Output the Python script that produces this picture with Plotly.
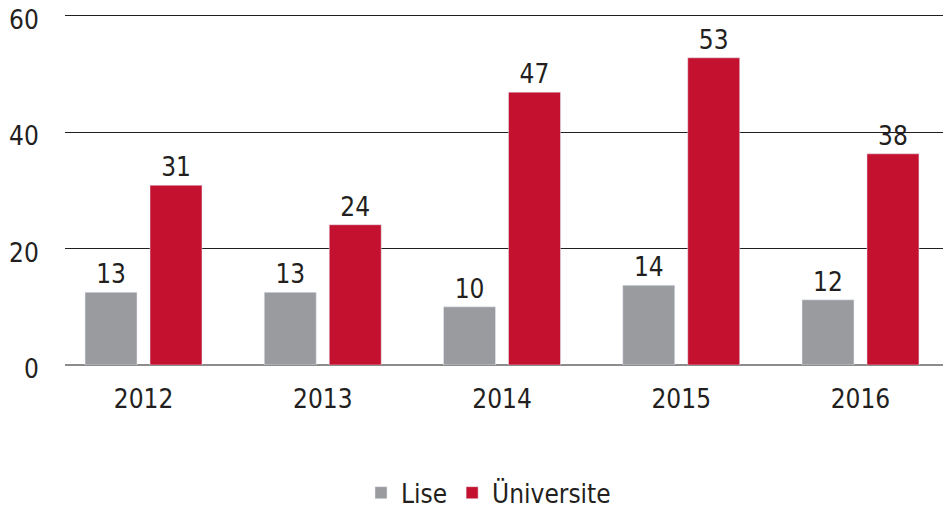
import plotly.graph_objects as go

years = ["2012", "2013", "2014", "2015", "2016"]
lise_values = [12.5, 12.5, 10.0, 13.7, 11.2]
lise_labels = ["13", "13", "10", "14", "12"]
uni_values = [30.9, 24.1, 46.9, 52.8, 36.3]
uni_labels = ["31", "24", "47", "53", "38"]
y_ticks = [0, 20, 40, 60]

FONT = "DejaVu Sans Condensed, Liberation Sans Narrow, sans-serif"
FS = 26
TXT = "#231f20"
GRAY = "#9a9b9f"
RED = "#c41130"

fig = go.Figure()
fig.add_trace(go.Bar(
    x=years, y=lise_values, name="Lise", marker_color=GRAY,
    text=lise_labels, textposition="outside", cliponaxis=False,
    textfont=dict(family=FONT, size=FS, color=TXT),
))
fig.add_trace(go.Bar(
    x=years, y=uni_values, name="Üniversite", marker_color=RED,
    text=uni_labels, textposition="outside", cliponaxis=False,
    textfont=dict(family=FONT, size=FS, color=TXT),
))

# y tick labels as annotations so they can sit slightly below their gridlines
for v in y_ticks:
    fig.add_annotation(
        xref="paper", yref="y", x=0, y=v, text=str(v),
        xanchor="right", yanchor="middle", xshift=-24, yshift=-4,
        showarrow=False, font=dict(family=FONT, size=FS, color=TXT),
    )

# the page has an 8px body margin, so the figure is 943x506 placed at (8, 8)
fig.update_layout(
    width=943, height=506,
    margin=dict(l=57, r=0, t=4.6, b=149, pad=0, autoexpand=False),
    paper_bgcolor="white", plot_bgcolor="white",
    barmode="group", bargap=0.275, bargroupgap=0.2,
    font=dict(family=FONT, size=FS, color=TXT),
    showlegend=True,
    legend=dict(
        orientation="h", x=0.478, xanchor="center", y=-0.363, yanchor="middle",
        font=dict(family=FONT, size=FS, color=TXT),
    ),
)
fig.update_xaxes(
    type="category", range=[-0.438, 4.505], automargin=False,
    showgrid=False, showline=False, zeroline=False,
    ticks="", ticklabelstandoff=16,
    tickfont=dict(family=FONT, size=FS, color=TXT),
)
fig.update_yaxes(
    range=[0, 60.5], tickvals=y_ticks, showticklabels=False,
    automargin=False,
    showgrid=True, gridcolor=TXT, gridwidth=1,
    zeroline=True, zerolinecolor="#8c8c8c", zerolinewidth=2,
    showline=False, ticks="",
)

fig.write_html("out.html")
